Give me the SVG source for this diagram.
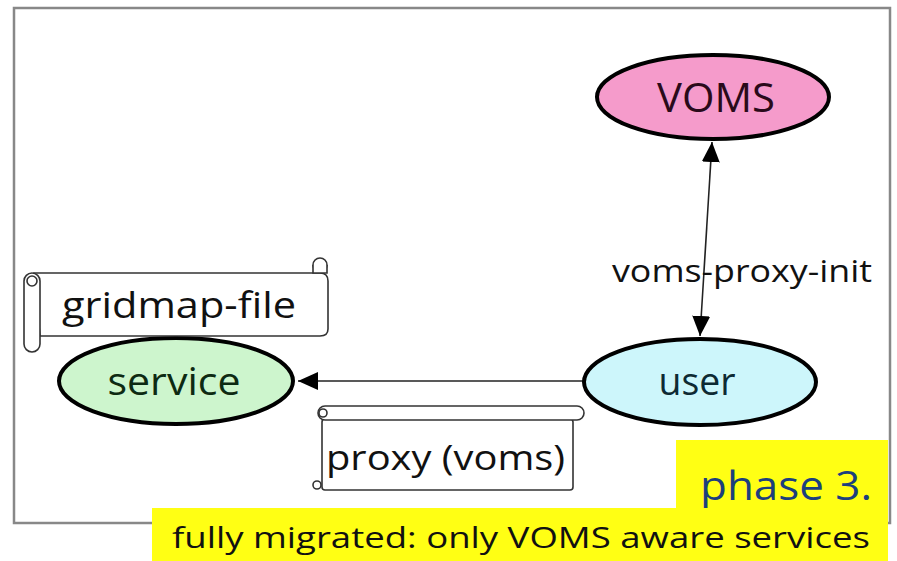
<svg xmlns="http://www.w3.org/2000/svg" width="897" height="561" viewBox="0 0 897 561">
  <style>
    .lbl { font-family: "Open Sans", "DejaVu Sans", sans-serif; fill: #111; }
    .node { stroke: #000; stroke-width: 4; }
    .scroll { fill: #fff; stroke: #333; stroke-width: 1.6; }
    .edge { stroke: #222; stroke-width: 1.6; fill: none; }
  </style>
  <defs>
    <marker id="arrBig" viewBox="0 0 20 20" refX="20" refY="10" markerWidth="20" markerHeight="20" markerUnits="userSpaceOnUse" orient="auto-start-reverse">
      <path d="M0,1 L20,10 L0,19 z" fill="#000"/>
    </marker>
  </defs>

  <rect width="897" height="561" fill="#fff"/>
  <!-- outer frame -->
  <rect x="14" y="8" width="876" height="515" fill="none" stroke="#888" stroke-width="2.5"/>

  <!-- connectors -->
  <g id="connectors">
    <line class="edge" x1="583" y1="381" x2="298" y2="381" marker-end="url(#arrBig)"/>
    <line class="edge" x1="712" y1="142" x2="700" y2="336" marker-start="url(#arrBig)" marker-end="url(#arrBig)"/>
    <text class="lbl" x="612" y="282" font-size="31" textLength="260" lengthAdjust="spacingAndGlyphs">voms-proxy-init</text>
  </g>

  <!-- VOMS node -->
  <g id="voms">
    <ellipse class="node" cx="713" cy="97" rx="116" ry="42" fill="#f59bcb"/>
    <text class="lbl" x="716" y="112" font-size="40" text-anchor="middle" style="fill:#2a0a1a" textLength="118" lengthAdjust="spacingAndGlyphs">VOMS</text>
  </g>

  <!-- user node -->
  <g id="user">
    <ellipse class="node" cx="700" cy="382" rx="116" ry="43" fill="#cdf6fb"/>
    <text class="lbl" x="697" y="395" font-size="38" text-anchor="middle" style="fill:#0d2a33" textLength="77" lengthAdjust="spacingAndGlyphs">user</text>
  </g>

  <!-- service node -->
  <g id="service">
    <ellipse class="node" cx="176" cy="381" rx="117" ry="43" fill="#cdf5cd"/>
    <text class="lbl" x="174" y="395" font-size="38" text-anchor="middle" style="fill:#0d2a12" textLength="133" lengthAdjust="spacingAndGlyphs">service</text>
  </g>

  <!-- gridmap-file scroll -->
  <g id="gridmap-file">
    <path class="scroll" d="M34,273 L320,273 Q328,273 328,281 L328,329 Q328,336 320,336 L40,336 Z"/>
    <circle class="scroll" cx="320" cy="265" r="7"/>
    <path class="scroll" d="M313,265 L313,273 L327,273 L327,265"/>
    <rect class="scroll" x="24" y="273" width="16" height="79" rx="8"/>
    <circle class="scroll" cx="32" cy="281" r="5"/>
    <text class="lbl" x="62" y="318" font-size="36" textLength="234" lengthAdjust="spacingAndGlyphs">gridmap-file</text>
  </g>

  <!-- proxy (voms) scroll -->
  <g id="proxy">
    <rect class="scroll" x="322" y="419" width="251" height="71" rx="3"/>
    <rect class="scroll" x="318" y="406" width="266" height="14" rx="7"/>
    <circle class="scroll" cx="323" cy="413" r="4"/>
    <circle class="scroll" cx="317" cy="485" r="4"/>
    <text class="lbl" x="326" y="470" font-size="34" textLength="239" lengthAdjust="spacingAndGlyphs">proxy (voms)</text>
  </g>

  <!-- caption boxes -->
  <g id="phase">
    <rect x="676" y="440" width="212" height="72" fill="#ffff14"/>
    <text class="lbl" x="700" y="500" font-size="40" style="fill:#1c3f7c" textLength="172" lengthAdjust="spacingAndGlyphs">phase 3.</text>
  </g>
  <g id="caption">
    <rect x="152" y="508" width="736" height="53" fill="#ffff14"/>
    <text class="lbl" x="172" y="548" font-size="30" textLength="698" lengthAdjust="spacingAndGlyphs">fully migrated: only VOMS aware services</text>
  </g>
</svg>
